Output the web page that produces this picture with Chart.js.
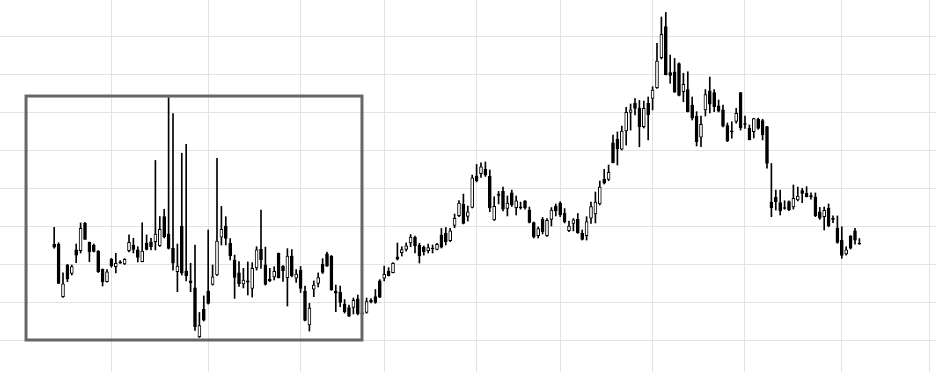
<!DOCTYPE html>
<html><head><meta charset="utf-8">
<script src="https://cdn.jsdelivr.net/npm/chart.js@4.4.1/dist/chart.umd.min.js"></script>
<style>html,body{margin:0;padding:0;background:#fff;} canvas{display:block;}</style>
</head><body>
<canvas id="c" width="936" height="372"></canvas>
<script>
const opens = [
7.05,7.03,4.28,5.95,5.50,6.74,6.70,8.14,7.14,7.00,
6.68,5.72,5.07,6.25,5.86,6.12,6.00,6.70,7.00,6.74,
6.12,7.09,7.17,7.17,6.97,8.49,7.58,6.83,5.59,8.00,
5.63,5.11,4.74,2.17,3.62,4.58,4.93,5.42,7.41,8.00,
7.09,6.21,5.54,4.95,5.11,4.72,5.79,6.77,5.95,5.19,
5.32,6.56,5.89,5.28,6.42,5.25,5.68,4.58,2.79,4.68,
4.98,5.98,6.53,6.42,4.58,4.51,3.89,3.71,3.72,4.17,
3.41,3.45,4.09,4.28,5.12,5.26,5.63,5.55,6.38,6.59,
6.77,7.11,7.41,7.00,6.88,6.70,6.83,6.77,7.53,7.62,
7.23,8.03,8.55,9.14,8.51,8.98,10.63,10.75,10.98,10.61,
8.32,9.63,9.82,8.92,9.74,8.97,8.98,9.32,8.84,8.18,
7.49,8.35,7.49,8.35,9.05,9.21,8.67,7.75,8.14,8.35,
7.61,7.49,8.41,8.63,9.16,10.46,10.45,12.38,12.56,12.05,
13.00,13.98,14.46,14.19,13.23,14.46,14.72,15.28,16.86,18.49,
16.07,16.12,16.55,15.07,15.18,14.37,13.79,12.67,14.11,15.11,
15.02,14.32,14.11,13.28,13.00,13.50,15.02,13.37,13.14,12.97,
13.63,13.55,13.23,9.24,9.51,9.23,8.95,9.28,9.00,9.37,
9.87,9.72,9.58,9.53,8.75,8.49,8.93,8.38,7.88,7.26,
6.53,7.47,7.75,7.06];
const highs = [
7.93,7.12,5.54,5.97,5.95,7.05,8.16,8.19,7.16,7.05,
6.71,5.74,5.71,6.30,6.56,6.18,6.28,7.53,7.35,6.91,
8.17,7.53,7.35,11.45,8.50,8.88,14.76,13.92,7.05,11.83,
12.30,6.04,7.00,3.45,4.32,7.79,5.95,11.56,9.03,8.49,
7.34,6.47,6.13,5.77,6.11,6.07,6.91,8.84,6.89,5.77,
5.86,6.58,5.92,6.81,6.76,5.71,5.87,4.84,3.93,5.11,
5.53,6.28,6.63,6.45,4.89,4.84,4.13,3.84,4.21,4.37,
3.68,4.21,4.18,4.66,5.18,5.89,5.81,6.08,7.11,6.91,
7.11,7.55,7.47,7.09,6.95,7.05,7.00,7.09,7.87,7.92,
7.88,8.63,9.34,9.68,9.05,10.68,11.24,11.32,11.37,10.95,
9.54,9.82,10.05,9.58,9.89,9.58,9.26,9.34,9.00,8.21,
7.95,8.45,8.39,8.97,9.16,9.28,8.92,8.26,8.39,8.66,
7.79,8.49,9.26,9.79,10.37,10.98,11.21,12.79,12.95,13.26,
14.25,14.42,14.71,14.61,14.58,14.79,15.33,17.61,19.00,19.24,
17.00,16.82,16.59,16.04,16.12,14.79,14.02,13.79,15.18,15.84,
15.18,14.63,14.37,13.42,13.49,14.19,15.03,13.79,13.32,13.67,
13.68,13.62,13.24,11.29,9.89,9.89,9.33,9.33,10.16,10.05,
9.98,10.07,9.75,9.74,8.98,9.00,9.16,8.54,8.53,7.96,
6.91,7.50,7.88,7.34];
const lows = [
6.83,4.97,4.24,5.07,5.42,6.07,6.58,7.29,6.12,6.63,
5.55,4.84,5.05,5.83,5.53,6.03,5.97,6.63,6.58,6.11,
6.11,6.74,6.74,6.74,6.92,7.37,6.79,5.68,4.54,5.42,
5.11,4.54,2.50,2.13,3.00,3.89,4.89,5.39,7.00,7.00,
6.21,4.19,4.82,4.74,4.37,4.26,5.68,5.77,4.89,5.07,
5.16,5.26,5.08,3.79,5.32,5.03,4.50,3.00,2.47,4.28,
4.79,5.50,5.87,4.61,3.49,3.75,3.42,3.23,3.37,3.32,
3.11,3.41,3.95,3.93,4.23,5.11,5.37,5.53,6.21,6.42,
6.68,6.91,6.58,6.05,6.47,6.58,6.58,6.74,6.84,7.00,
7.18,7.91,8.49,8.11,8.26,8.95,10.32,10.56,10.61,8.75,
8.29,9.16,8.79,8.53,9.03,8.58,8.89,8.89,8.16,7.37,
7.37,7.58,7.45,8.00,8.53,8.49,8.16,7.70,7.74,7.61,
7.26,7.26,8.14,8.16,9.11,10.21,10.38,11.32,11.21,12.00,
12.26,13.05,13.84,12.17,13.16,12.53,14.11,15.24,16.79,15.95,
15.51,15.03,14.84,14.54,14.00,13.58,12.21,12.18,13.79,13.95,
14.02,14.00,13.21,12.44,12.62,13.41,13.05,13.14,12.53,12.63,
13.09,12.53,11.04,8.49,8.84,8.58,8.88,8.81,8.89,9.32,
9.23,9.53,9.41,8.49,8.35,7.79,7.96,8.17,7.09,6.30,
6.47,6.79,7.05,7.04];
const closes = [
6.89,4.98,4.95,5.21,5.87,6.47,7.88,7.30,6.65,6.66,
5.59,5.07,5.59,5.91,6.04,6.05,6.25,7.14,6.77,6.35,
6.68,6.77,6.91,7.58,7.83,7.42,6.82,6.04,5.89,5.53,
5.37,5.00,2.70,2.76,3.05,3.93,5.33,7.21,7.83,7.35,
6.42,5.30,4.96,5.16,5.05,5.77,6.74,6.23,4.93,5.11,
5.62,5.28,5.65,6.42,5.37,5.47,4.72,3.03,3.68,4.89,
5.29,5.56,5.89,4.63,4.46,3.98,3.49,3.25,4.09,3.38,
3.38,4.02,4.02,3.98,4.25,5.46,5.39,6.03,6.26,6.76,
6.95,7.42,6.95,6.44,6.65,6.86,6.79,7.04,6.88,7.16,
7.75,8.41,9.21,8.14,8.75,10.53,10.39,11.12,10.68,8.95,
9.04,9.61,8.88,9.21,9.11,9.32,8.95,8.97,8.19,7.42,
7.86,7.70,8.30,8.84,8.79,8.58,8.21,8.00,8.32,7.65,
7.30,8.23,9.02,9.26,10.05,10.25,10.83,11.33,12.07,13.00,
13.98,14.11,14.19,13.23,14.19,13.84,15.16,16.68,18.09,15.97,
15.92,15.05,14.87,15.46,14.02,13.67,12.44,13.35,14.92,14.41,
14.28,14.05,13.26,12.49,12.95,13.93,13.18,13.34,12.55,13.66,
13.14,12.79,11.30,8.97,9.28,8.81,8.92,8.84,9.46,9.58,
9.72,9.54,9.55,8.55,8.41,8.82,8.00,8.35,7.14,6.45,
6.74,6.83,7.26,7.04];
const monthStarts = [13,35,56,75,96,115,136,157,179,199];
const priceTicks = [2,4,6,8,10,12,14,16,18];
const highlightPeriod = { from: -6.4, to: 69.95, low: 2, high: 14.84 };

const idx = opens.map((_, i) => i);
const wickData = idx.map(i => ({x: i, y: [lows[i], highs[i]]}));
const bodyData = idx.map(i => ({x: i, y: [opens[i], closes[i]]}));
const bodyFill = idx.map(i => closes[i] > opens[i] ? '#ffffff' : '#000000');

const boxPlugin = {
  id: 'highlightBox',
  afterDatasetsDraw(chart) {
    const {ctx, scales: {x, y}} = chart;
    const x0 = x.getPixelForValue(highlightPeriod.from);
    const x1 = x.getPixelForValue(highlightPeriod.to);
    const y0 = y.getPixelForValue(highlightPeriod.high);
    const y1 = y.getPixelForValue(highlightPeriod.low);
    ctx.save();
    ctx.strokeStyle = '#666666';
    ctx.lineWidth = 3;
    ctx.strokeRect(x0, y0, x1 - x0, y1 - y0);
    ctx.restore();
  }
};

new Chart(document.getElementById('c'), {
  type: 'bar',
  data: { datasets: [
    { data: bodyData, backgroundColor: bodyFill, borderColor: '#000000', borderWidth: 1,
      borderSkipped: false, barThickness: 3, grouped: false, minBarLength: 1, order: 0 },
    { data: wickData, backgroundColor: '#000000', borderWidth: 0,
      barThickness: 1, grouped: false, order: 1 }
  ]},
  options: {
    responsive: false, animation: false, devicePixelRatio: 1,
    layout: { padding: 0 },
    plugins: { legend: {display: false}, tooltip: {enabled: false} },
    scales: {
      x: { type: 'linear', min: -12.318, max: 200.41, offset: false,
           afterBuildTicks: ax => { ax.ticks = monthStarts.map(v => ({value: v})); },
           ticks: {display: false}, grid: {color: '#e3e3e3', drawTicks: false, offset: false},
           border: {display: false} },
      y: { type: 'linear', min: 0.316, max: 19.895,
           afterBuildTicks: ax => { ax.ticks = priceTicks.map(v => ({value: v})); },
           ticks: {display: false}, grid: {color: '#e3e3e3', drawTicks: false},
           border: {display: false} }
    }
  },
  plugins: [boxPlugin]
});
</script></body></html>
